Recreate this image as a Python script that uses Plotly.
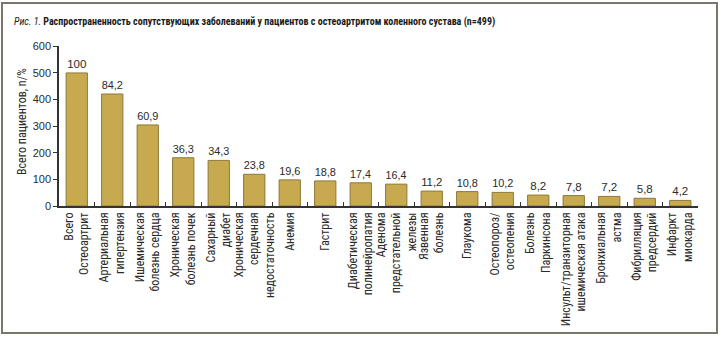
import plotly.graph_objects as go

categories = [
    "Всего<br>Остеоартрит",
    "Артериальная<br>гипертензия",
    "Ишемическая<br>болезнь сердца",
    "Хроническая<br>болезнь почек",
    "Сахарный<br>диабет",
    "Хроническая<br>сердечная<br>недостаточность",
    "Анемия",
    "Гастрит",
    "Диабетическая<br>полинейропатия",
    "Аденома<br>предстательной<br>железы",
    "Язвенная<br>болезнь",
    "Глаукома",
    "Остеопороз/<br>остеопения",
    "Болезнь<br>Паркинсона",
    "Инсульт/транзиторная<br>ишемическая атака",
    "Бронхиальная<br>астма",
    "Фибрилляция<br>предсердий",
    "Инфаркт<br>миокарда",
]
counts = [499, 420, 304, 181, 171, 119, 98, 94, 87, 82, 56, 54, 51, 41, 39, 36, 29, 21]
percent_labels = ["100", "84,2", "60,9", "36,3", "34,3", "23,8", "19,6", "18,8", "17,4",
                  "16,4", "11,2", "10,8", "10,2", "8,2", "7,8", "7,2", "5,8", "4,2"]
y_ticks = [0, 100, 200, 300, 400, 500, 600]

NARROW = "Roboto Condensed, Roboto, sans-serif"
REG = "Liberation Sans, Arial, sans-serif"

fig = go.Figure(go.Bar(
    x=categories, y=counts, text=percent_labels, textposition="outside",
    textfont=dict(size=11.5, color="#2a2a2a", family=REG),
    marker=dict(color="#C7A94F", line=dict(color="#8E7838", width=1)),
    width=0.6, cliponaxis=False,
))

W, H = 720, 337
L, R, T, B = 59, 22, 46, 131
pw, ph = W - L - R, H - T - B

fig.update_layout(
    width=W, height=H, margin=dict(l=L, r=R, t=T, b=B),
    paper_bgcolor="white", plot_bgcolor="white",
    font=dict(family=NARROW, size=12, color="#2a2a2a"),
    showlegend=False,
    xaxis=dict(
        tickangle=-90, showline=True, linecolor="#333333", linewidth=1.5,
        ticks="inside", tickson="boundaries", ticklen=4, tickcolor="#333333",
        tickfont=dict(size=12, family=NARROW, color="#2a2a2a"),
        showgrid=False, zeroline=False, automargin=False,
    ),
    yaxis=dict(
        range=[0, 600], tickvals=y_ticks, showline=True, linecolor="#333333", linewidth=1.5,
        ticks="outside", ticklen=4, tickcolor="#333333", showgrid=False, zeroline=False,
        tickfont=dict(size=11, family=REG, color="#2a2a2a"), automargin=False,
    ),
    annotations=[
        dict(
            text="<i>Рис. 1.</i> <b>Распространенность сопутствующих заболеваний у пациентов с остеоартритом коленного сустава (n=499)</b>",
            xref="paper", yref="paper", x=(12 - L) / pw, y=(H - B - 22) / ph,
            xanchor="left", yanchor="middle", showarrow=False,
            font=dict(size=10, family=NARROW, color="#1a1a1a"),
        ),
        dict(
            text="Всего пациентов, n/%", textangle=-90,
            xref="paper", yref="paper", x=(22 - L) / pw, y=(H - B - 122) / ph,
            xanchor="center", yanchor="middle", showarrow=False,
            font=dict(size=12, family=NARROW, color="#2a2a2a"),
        ),
    ],
    shapes=[dict(
        type="rect", xref="paper", yref="paper",
        x0=(2 - L) / pw, x1=(717 - L) / pw, y0=(H - B - 333) / ph, y1=(H - B - 3) / ph,
        line=dict(color="#7a766c", width=2), layer="below",
    )],
)

fig.write_html("out.html")
